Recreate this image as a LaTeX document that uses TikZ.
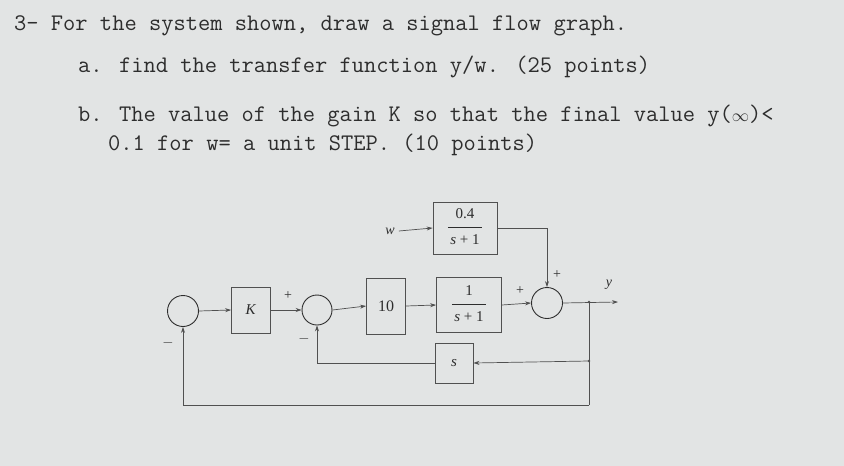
\documentclass[tikz,border=0pt]{standalone}
\usepackage{fontspec}
\setmainfont{Liberation Serif}
\usetikzlibrary{arrows.meta}
\definecolor{paper}{RGB}{226,228,228}
\definecolor{ink}{RGB}{45,45,45}
\definecolor{wire}{RGB}{80,80,80}
\newcommand{\tfrac}[2]{\begin{tabular}{@{\,}c@{\,}}#1\\[3pt]\hline\rule{0pt}{17pt}#2\end{tabular}}
\tikzset{
	question/.style={anchor=base west,inner sep=0pt,text=ink,font=\ttfamily\fontsize{23.8}{26}\selectfont},
	blockbox/.style={draw=wire,line width=0.8pt,inner sep=0pt,text=ink,font=\fontsize{15}{17}\selectfont},
	sumnode/.style={draw=ink,line width=0.9pt,circle,inner sep=0pt,minimum size=31pt},
	sig/.style={draw=wire,line width=0.7pt,-{Stealth[length=6pt,width=4pt]}},
	wirel/.style={draw=wire,line width=0.7pt},
	sgn/.style={text=ink,font=\fontsize{14}{16}\selectfont,inner sep=0pt}
}
\begin{document}
\begin{tikzpicture}[x=1pt,y=-1pt]
	\fill[paper] (0,0) rectangle (844,466);
	\useasboundingbox (0,0) rectangle (844,466);
	% question text
	\node[question] (q1) at (14,30) {3- For the system shown, draw a signal flow graph.};
	\node[question] (qa) at (78,72) {a. find the transfer function y/w. (25 points)};
	\node[question] (qb) at (78,121) {b. The value of the gain K so that the final value y({\fontsize{17}{19}\selectfont$\infty$})<};
	\node[question] (qc) at (108,150) {0.1 for w= a unit STEP. (10 points)};
	% blocks and summing points
	\node[sumnode] (sumA) at (183,311) {};
	\node[blockbox,minimum width=39pt,minimum height=46pt] (gK) at (251,310) {\textit{K}};
	\node[sumnode,minimum size=30pt] (sumB) at (317,310) {};
	\node[blockbox,minimum width=39pt,minimum height=56pt,font=\fontsize{16}{18}\selectfont] (gTen) at (386,306) {10};
	\node[sgn,font=\itshape\fontsize{14}{16}\selectfont] (wIn) at (390,231) {w};
	\node[blockbox,minimum width=64pt,minimum height=52pt] (gW) at (465,228) {\tfrac{0.4}{\textit{s} + 1}};
	\node[blockbox,minimum width=65pt,minimum height=55pt] (gP) at (469,305) {\tfrac{1}{\textit{s} + 1}};
	\node[blockbox,minimum width=38pt,minimum height=40pt] (gS) at (454,363) {\textit{s}};
	\node[sumnode] (sumC) at (547,303) {};
	\coordinate (yOut) at (618,302);
	\coordinate (tapA) at (589,302);
	\coordinate (tapB) at (589,361);
	\coordinate (tapC) at (589,405);
	% forward path
	\draw[sig] (sumA.east) -- (gK.west);
	\draw[sig] (gK.east) -- (sumB.west);
	\draw[sig] (sumB.east) -- (gTen.west);
	\draw[sig] (gTen.east) -- (gP.west);
	\draw[sig] (gP.east) -- (sumC.west);
	\draw[sig] (sumC.east) -- (yOut);
	\draw[sig] (wIn.east) ++(4,0) -- (gW.west);
	\draw[sig] (gW.east) -| (sumC.north);
	% feedback paths
	\draw[wirel] (tapA) -- (tapC);
	\draw[sig] (tapB) -- (gS.east);
	\draw[sig] (gS.west) -| (sumB.south);
	\draw[sig] (tapC) -| (sumA.south);
	\fill[wire] (tapA) circle (1.3pt) (tapB) circle (1.3pt);
	% signs
	\node[sgn] (pB) at (288,296) {+};
	\node[sgn] (mB) at (304,339) {$-$};
	\node[sgn] (mA) at (168,343) {$-$};
	\node[sgn] (pC1) at (557,275) {+};
	\node[sgn] (pC2) at (520,291) {+};
	\node[sgn,font=\itshape\fontsize{14}{16}\selectfont] (yLbl) at (609,285) {y};
\end{tikzpicture}
\end{document}
